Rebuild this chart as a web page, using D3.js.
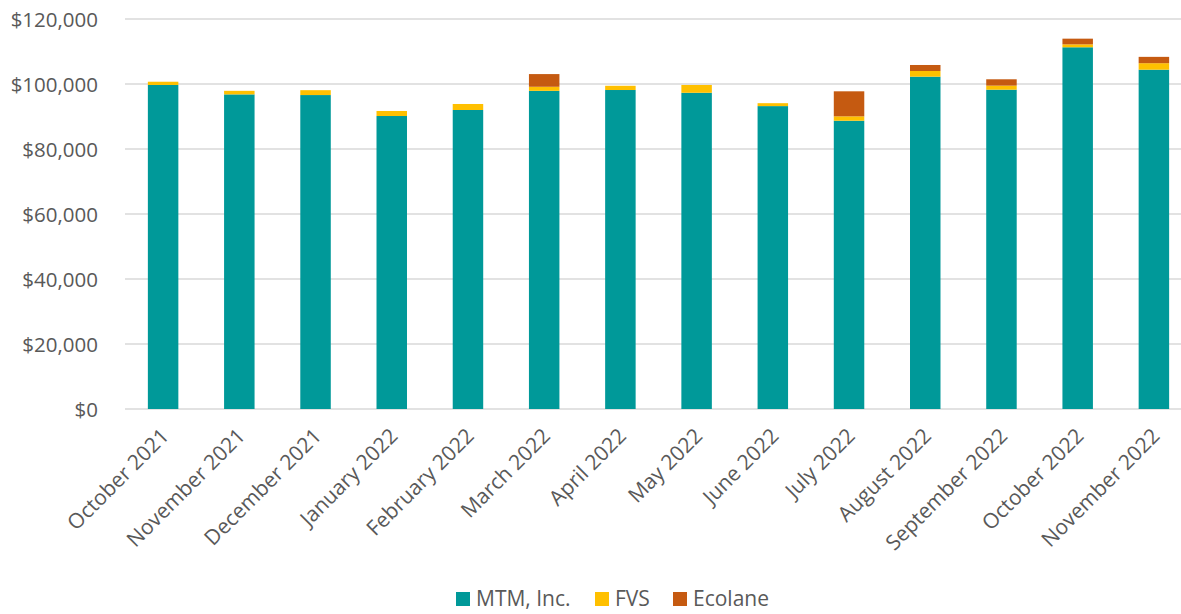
<!DOCTYPE html>
<html>
<head>
<meta charset="utf-8">
<script src="https://cdn.jsdelivr.net/npm/d3@7"></script>
<style>
  body { margin: 0; background: #fff; }
  svg { display: block; }
</style>
</head>
<body>
<script>
// Datos
const months = ["October 2021", "November 2021", "December 2021", "January 2022", "February 2022",
  "March 2022", "April 2022", "May 2022", "June 2022", "July 2022", "August 2022",
  "September 2022", "October 2022", "November 2022"];
const mtm     = [99700, 96800, 96600, 90150, 92000, 97900, 98150, 97300, 93200, 88700, 102250, 98250, 111300, 104400];
const fvs     = [1000, 1100, 1500, 1550, 1850, 1250, 1300, 2400, 900, 1350, 1750, 1250, 900, 2000];
const ecolane = [0, 0, 0, 0, 0, 3900, 0, 0, 0, 7700, 1850, 1950, 1750, 1950];
const seriesNames = ["MTM, Inc.", "FVS", "Ecolane"];
const seriesColors = ["#009999", "#FFC000", "#C55A11"];
const yTicks = [0, 20000, 40000, 60000, 80000, 100000, 120000];

const width = 1181, height = 614;
const M = {top: 19, left: 125, bottom: 205};
const font = "'Open Sans', sans-serif";

const rows = months.map((m, i) => ({month: m, "MTM, Inc.": mtm[i], "FVS": fvs[i], "Ecolane": ecolane[i]}));
const stacked = d3.stack().keys(seriesNames)(rows);

const x = d3.scaleBand().domain(months).range([M.left, 1192]).paddingInner(0.6).paddingOuter(0.3);
const y = d3.scaleLinear().domain([0, 120000]).range([height - M.bottom, M.top]);
const color = d3.scaleOrdinal(seriesNames, seriesColors);

const svg = d3.select("body").append("svg")
  .attr("width", width).attr("height", height)
  .style("font-family", font);

// Rejilla
svg.append("g").selectAll("line").data(yTicks).join("line")
  .attr("x1", M.left).attr("x2", width)
  .attr("y1", d => y(d)).attr("y2", d => y(d))
  .attr("stroke", "#d9d9d9").attr("stroke-width", 1.5);

// Eje Y
svg.append("g").attr("transform", `translate(${M.left - 24},0)`)
  .call(d3.axisLeft(y).tickValues(yTicks).tickSize(0).tickFormat(d => "$" + d3.format(",")(d)))
  .call(ax => ax.select(".domain").remove())
  .call(ax => ax.selectAll("text").attr("fill", "#595959").attr("font-size", 20.5)
    .attr("font-family", font).attr("dy", "0.35em"));

// Barras apiladas
svg.append("g").selectAll("g").data(stacked).join("g")
  .attr("fill", d => color(d.key))
  .selectAll("rect").data(d => d).join("rect")
  .attr("x", d => x(d.data.month))
  .attr("width", x.bandwidth())
  .attr("y", d => y(d[1]))
  .attr("height", d => y(d[0]) - y(d[1]));

// Eje X
svg.append("g").attr("transform", `translate(0,${y(0)})`)
  .call(d3.axisBottom(x).tickSize(0))
  .call(ax => ax.select(".domain").remove())
  .call(ax => ax.selectAll("text")
    .attr("fill", "#595959").attr("font-size", 21).attr("font-family", font)
    .attr("text-anchor", "end")
    .attr("dy", "0.35em")
    .attr("transform", "translate(2,23) rotate(-45)")
    .attr("x", 0).attr("y", 0));

// Leyenda
const legendX = [456, 595, 673];
const lg = svg.append("g");
seriesNames.forEach((s, i) => {
  lg.append("rect").attr("x", legendX[i]).attr("y", 592).attr("width", 14).attr("height", 14)
    .attr("fill", seriesColors[i]);
  lg.append("text").attr("x", legendX[i] + 20).attr("y", 599).attr("dy", "0.35em")
    .attr("font-size", 21).attr("fill", "#595959").text(s);
});
</script>
</body>
</html>
